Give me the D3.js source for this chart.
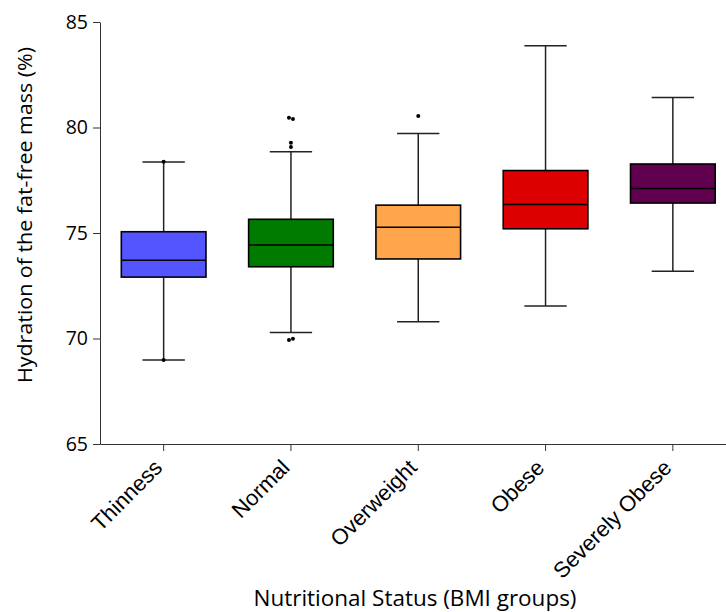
<!DOCTYPE html>
<html>
<head>
<meta charset="utf-8">
<title>Hydration of the fat-free mass by BMI group</title>
<script src="https://cdn.jsdelivr.net/npm/d3@7"></script>
<style>
  body { margin: 0; background: #fff; }
  svg { display: block; }
</style>
</head>
<body>
<script>
// data
var categories = ["Thinness", "Normal", "Overweight", "Obese", "Severely Obese"];
var lowWhisker = [68.98, 70.29, 70.79, 71.54, 73.19];
var q1         = [72.91, 73.40, 73.77, 75.20, 76.42];
var medians    = [73.71, 74.43, 75.27, 76.35, 77.11];
var q3         = [75.06, 75.65, 76.32, 77.96, 78.27];
var highWhisker= [78.36, 78.85, 79.72, 83.87, 81.42];
var colors     = ["#5555ff", "#007b00", "#ffa64d", "#dd0000", "#61004f"];
var outlierCat = ["Thinness", "Thinness", "Normal", "Normal", "Normal", "Normal", "Normal", "Normal", "Overweight"];
var outlierVal = [78.38, 68.98, 80.46, 80.40, 79.28, 79.08, 69.93, 69.99, 80.55];
var yTicks = [65, 70, 75, 80, 85];

var width = 726, height = 612;
var margin = {top: 22, left: 100, bottom: 444, right: 736.5};
var labelFont = "'Open Sans', sans-serif";
var catFont = "'Liberation Sans', Arial, sans-serif";

var svg = d3.select("body").append("svg")
  .attr("width", width)
  .attr("height", height);

var x = d3.scaleBand()
  .domain(categories)
  .range([margin.left, margin.right])
  .paddingInner(0.335)
  .paddingOuter(0.1675);

var y = d3.scaleLinear()
  .domain([65, 85])
  .range([margin.bottom, margin.top]);

var boxes = categories.map(function(c, i) {
  return {cat: c, lo: lowWhisker[i], q1: q1[i], med: medians[i], q3: q3[i], hi: highWhisker[i], color: colors[i]};
});

var bw = x.bandwidth();
var g = svg.selectAll("g.box").data(boxes).enter().append("g")
  .attr("class", "box")
  .attr("transform", function(d) { return "translate(" + (x(d.cat) + bw / 2) + ",0)"; });

// whiskers
g.append("line").attr("x1", 0).attr("x2", 0)
  .attr("y1", function(d) { return y(d.hi); })
  .attr("y2", function(d) { return y(d.q3); })
  .attr("stroke", "#222").attr("stroke-width", 1.5);
g.append("line").attr("x1", 0).attr("x2", 0)
  .attr("y1", function(d) { return y(d.q1); })
  .attr("y2", function(d) { return y(d.lo); })
  .attr("stroke", "#222").attr("stroke-width", 1.5);
g.append("line").attr("x1", -bw / 4).attr("x2", bw / 4)
  .attr("y1", function(d) { return y(d.hi); })
  .attr("y2", function(d) { return y(d.hi); })
  .attr("stroke", "#222").attr("stroke-width", 1.5);
g.append("line").attr("x1", -bw / 4).attr("x2", bw / 4)
  .attr("y1", function(d) { return y(d.lo); })
  .attr("y2", function(d) { return y(d.lo); })
  .attr("stroke", "#222").attr("stroke-width", 1.5);

// box
g.append("rect")
  .attr("x", -bw / 2)
  .attr("width", bw)
  .attr("y", function(d) { return y(d.q3); })
  .attr("height", function(d) { return y(d.q1) - y(d.q3); })
  .attr("fill", function(d) { return d.color; })
  .attr("stroke", "#000").attr("stroke-width", 1.6);
g.append("line").attr("x1", -bw / 2).attr("x2", bw / 2)
  .attr("y1", function(d) { return y(d.med); })
  .attr("y2", function(d) { return y(d.med); })
  .attr("stroke", "#000").attr("stroke-width", 1.6);

// outlier points, nudged sideways when two sit almost on top of each other
var pts = outlierCat.map(function(c, i) { return {cat: c, v: outlierVal[i], dx: 0}; });
pts.forEach(function(p, i) {
  pts.forEach(function(q, j) {
    if (j > i && q.cat === p.cat && Math.abs(y(q.v) - y(p.v)) < 3) { p.dx = -2; q.dx = 2; }
  });
});
svg.selectAll("circle.out").data(pts).enter().append("circle")
  .attr("class", "out")
  .attr("cx", function(d) { return x(d.cat) + bw / 2 + d.dx; })
  .attr("cy", function(d) { return y(d.v); })
  .attr("r", 2)
  .attr("fill", "#000");

// y axis
var yAxis = svg.append("g")
  .attr("transform", "translate(" + margin.left + ",0)")
  .call(d3.axisLeft(y).tickValues(yTicks).tickSize(7).tickPadding(5).tickSizeOuter(0));
yAxis.select(".domain").attr("stroke", "#333");
yAxis.selectAll(".tick line").attr("stroke", "#333");
yAxis.selectAll(".tick text")
  .style("font-family", labelFont)
  .style("font-size", "19.5px")
  .attr("fill", "#000");

// x axis
var xAxis = svg.append("g")
  .attr("transform", "translate(0," + margin.bottom + ")")
  .call(d3.axisBottom(x).tickSize(7).tickSizeOuter(0));
xAxis.select(".domain").attr("stroke", "#333");
xAxis.selectAll(".tick line").attr("stroke", "#333");
xAxis.selectAll(".tick text")
  .attr("font-family", catFont)
  .style("font-family", catFont)
  .style("font-size", "22px")
  .attr("fill", "#000")
  .attr("text-anchor", "end")
  .attr("x", 0).attr("y", 0).attr("dy", 0)
  .attr("transform", "translate(0,25) rotate(-45)");

// axis titles
svg.append("text")
  .attr("transform", "translate(32,215) rotate(-90)")
  .attr("text-anchor", "middle")
  .style("font-family", labelFont)
  .style("font-size", "20px")
  .attr("textLength", 336)
  .attr("lengthAdjust", "spacingAndGlyphs")
  .text("Hydration of the fat-free mass (%)");

svg.append("text")
  .attr("x", 415).attr("y", 606)
  .attr("text-anchor", "middle")
  .style("font-family", labelFont)
  .style("font-size", "21px")
  .attr("textLength", 323)
  .attr("lengthAdjust", "spacingAndGlyphs")
  .text("Nutritional Status (BMI groups)");
</script>
</body>
</html>
